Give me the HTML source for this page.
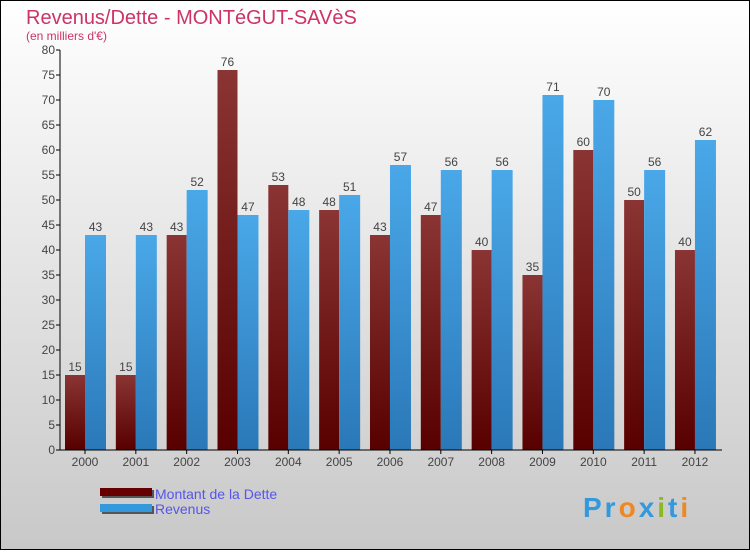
<!DOCTYPE html>
<html><head><meta charset="utf-8"><style>
body{margin:0;width:750px;height:550px;overflow:hidden;font-family:"Liberation Sans",sans-serif}
</style></head><body>
<svg width="750" height="550" xmlns="http://www.w3.org/2000/svg">
<defs>
<linearGradient id="bg" x1="0" y1="0" x2="0" y2="1"><stop offset="0" stop-color="#ffffff"/><stop offset="1" stop-color="#c8c8c8"/></linearGradient>
<linearGradient id="gd" x1="0" y1="0" x2="0" y2="1"><stop offset="0" stop-color="#8a3434"/><stop offset="1" stop-color="#580000"/></linearGradient>
<linearGradient id="gr" x1="0" y1="0" x2="0" y2="1"><stop offset="0" stop-color="#4aa8e8"/><stop offset="1" stop-color="#2a78b8"/></linearGradient>
</defs>
<rect x="0.5" y="0.5" width="749" height="549" fill="url(#bg)" stroke="#000"/>
<text x="26" y="24" font-size="20" fill="#cc3366">Revenus/Dette - MONTéGUT-SAVèS</text>
<text x="26" y="40" font-size="12" fill="#cc3366">(en milliers d'€)</text>
<g id="plot"></g>
<g>
<rect x="102" y="490" width="52" height="8" fill="#555"/><rect x="100" y="488" width="52" height="8" fill="#660000"/>
<text x="155" y="499" font-size="14" fill="#5555ee">Montant de la Dette</text>
<rect x="102" y="506" width="52" height="8" fill="#555"/><rect x="100" y="504" width="52" height="8" fill="#3399dd"/>
<text x="155" y="514" font-size="14" fill="#5555ee">Revenus</text>
</g>
<text x="583" y="517" font-size="28" font-weight="bold" letter-spacing="3" fill="#3399dd"><tspan fill="#3399dd">Pr</tspan><tspan fill="#ee8822">o</tspan><tspan fill="#3399dd">x</tspan><tspan fill="#88bb22">i</tspan><tspan fill="#3399dd">t</tspan><tspan fill="#ee8822">i</tspan></text>
</svg>
<script>
const years=["2000","2001","2002","2003","2004","2005","2006","2007","2008","2009","2010","2011","2012"];
const dette=[15,15,43,76,53,48,43,47,40,35,60,50,40];
const revenus=[43,43,52,47,48,51,57,56,56,71,70,56,62];
const yTicks=[0,5,10,15,20,25,30,35,40,45,50,55,60,65,70,75,80];
const NS="http://www.w3.org/2000/svg";
const g=document.getElementById('plot');
const y=v=>450-v*5;
const xc=i=>85+i*50.83;
function mk(t,a,p){const e=document.createElementNS(NS,t);for(const k in a)e.setAttribute(k,a[k]);(p||g).appendChild(e);return e;}
yTicks.forEach(v=>{
 const l=mk('line',{x1:56,x2:60,y1:y(v),y2:y(v),stroke:'#000'});
 
 
 const t=mk('text',{x:55,y:y(v)+4,'font-size':12,'text-anchor':'end',fill:'#444'});
 t.textContent=v;
 
 
});
years.forEach((yr,i)=>{
 const c=xc(i);
 const b1=mk('rect',{x:c-20,y:y(dette[i]),width:20,height:dette[i]*5,fill:'url(#gd)'});
 
 
 const b2=mk('rect',{x:c,y:y(revenus[i]),width:21,height:revenus[i]*5,fill:'url(#gr)'});
 
 
 const t1=mk('text',{x:c-10,y:y(dette[i])-4,'font-size':12,'text-anchor':'middle',fill:'#444'});
 t1.textContent=dette[i];
 
 
 const t2=mk('text',{x:c+10.5,y:y(revenus[i])-4,'font-size':12,'text-anchor':'middle',fill:'#444'});
 t2.textContent=revenus[i];
 
 
 const tk=mk('line',{x1:c,x2:c,y1:450,y2:454,stroke:'#000'});
 
 
 const xl=mk('text',{x:c,y:466,'font-size':12,'text-anchor':'middle',fill:'#444'});
 xl.textContent=yr;
 
 
});
const ya=mk('line',{x1:60,x2:60,y1:50,y2:450,stroke:'#000'});


const xa=mk('line',{x1:60,x2:722,y1:450,y2:450,stroke:'#000'});


</script>
</body></html>
